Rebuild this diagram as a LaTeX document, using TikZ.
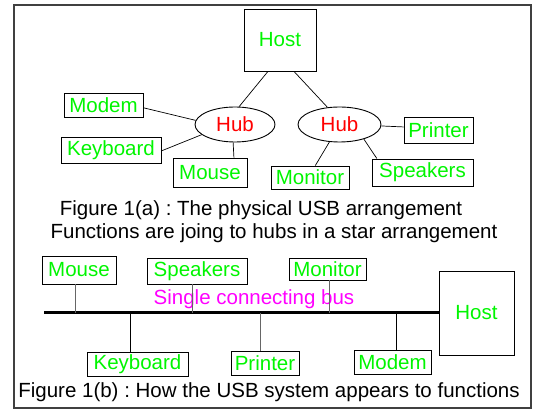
\documentclass[tikz,border=0pt]{standalone}
\usepackage{fontspec}
\setmainfont{Liberation Sans}
\usetikzlibrary{shapes.geometric}
\definecolor{devgreen}{RGB}{0,245,0}
\definecolor{hubred}{RGB}{255,0,0}
\definecolor{busmagenta}{RGB}{255,0,255}
\frenchspacing
\begin{document}
\begin{tikzpicture}[x=1pt, y=-1pt,
        txt/.style={font=\fontsize{20.5}{22}\selectfont, inner sep=0pt},
        dev/.style={txt, draw, line width=0.9pt, text=devgreen},
        hub/.style={txt, draw, ellipse, line width=0.9pt, text=hubred, minimum width=80pt, minimum height=35pt},
        hostbox/.style={txt, draw, line width=0.9pt, text=devgreen},
        link/.style={line width=0.7pt},
        stub/.style={line width=0.9pt},
    ]
    \useasboundingbox (0,0) rectangle (535,411);
    % Frame
    \node[draw=black!75, line width=1.5pt, minimum width=517pt, minimum height=403pt, inner sep=0pt] (frame) at (272.5,206.5) {};

    % Figure 1(a): star arrangement
    \node[hostbox, minimum width=72pt, minimum height=62pt] (host) at (280,40) {Host};
    \node[hub] (hubl) at (235,124.5) {Hub};
    \node[hub, minimum width=83pt] (hubr) at (339.5,124.5) {Hub};

    \node[dev, minimum width=79pt, minimum height=24pt] (modem) at (103.5,105) {Modem};
    \node[dev, minimum width=100pt, minimum height=26pt] (keyboard) at (111,150) {Keyboard};
    \node[dev, minimum width=74pt, minimum height=29pt] (mouse) at (210,172.5) {Mouse};
    \node[dev, minimum width=78pt, minimum height=23pt] (monitor) at (310,177.5) {Monitor};
    \node[dev, minimum width=101pt, minimum height=27pt] (speakers) at (422.5,172.5) {Speakers};
    \node[dev, minimum width=69pt, minimum height=26pt] (printer) at (438.5,130) {Printer};

    \draw[link] (host.-111) -- (hubl.77);
    \draw[link] (host.-66) -- (hubr.125);
    \draw[link] (modem.-4) -- (hubl.174);
    \draw[link] (keyboard.-1) -- (hubl.-163);
    \draw[link] (mouse.32) -- (hubl.-96);
    \draw[link] (monitor.66) -- (hubr.-120);
    \draw[link] (speakers.163) -- (hubr.-31);
    \draw[link] (printer.175) -- (hubr.-2);

    \node[txt] (capa) at (261,210) {Figure 1(a) : The physical USB arrangement};
    \node[txt] (capa2) at (274,233) {Functions are joing to hubs in a star arrangement};

    % Figure 1(b): single bus
    \node[hostbox, minimum width=75pt, minimum height=84pt] (hostb) at (476.5,313) {Host};
    \coordinate (busl) at (44,313);
    \draw[line width=3pt] (busl) -- (hostb.west);
    \node[txt, text=busmagenta] (buslabel) at (254,299) {Single connecting bus};

    \node[dev, minimum width=74pt, minimum height=28pt] (mouseb) at (79,270) {Mouse};
    \node[dev, minimum width=100pt, minimum height=26pt] (speakersb) at (197,271) {Speakers};
    \node[dev, minimum width=77pt, minimum height=22pt] (monitorb) at (327.5,269) {Monitor};
    \node[dev, minimum width=101pt, minimum height=24pt] (keyboardb) at (137.5,364) {Keyboard};
    \node[dev, minimum width=68pt, minimum height=24pt] (printerb) at (265,363) {Printer};
    \node[dev, minimum width=77pt, minimum height=24pt] (modemb) at (392.5,362) {Modem};

    \coordinate (t1) at (75,313);
    \coordinate (t2) at (192,313);
    \coordinate (t3) at (329,313);
    \coordinate (t4) at (130,313);
    \coordinate (t5) at (260,313);
    \coordinate (t6) at (396,313);
    \draw[stub, black!60] (t1) -- (t1 |- mouseb.south);
    \draw[stub, black!60] (t2) -- (t2 |- speakersb.south);
    \draw[stub, black!60] (t3) -- (t3 |- monitorb.south);
    \draw[stub] (t4) -- (t4 |- keyboardb.north);
    \draw[stub, black!60] (t5) -- (t5 |- printerb.north);
    \draw[stub] (t6) -- (t6 |- modemb.north);

    \node[txt] (capb) at (269,392) {Figure 1(b) : How the USB system appears to functions};
\end{tikzpicture}
\end{document}
